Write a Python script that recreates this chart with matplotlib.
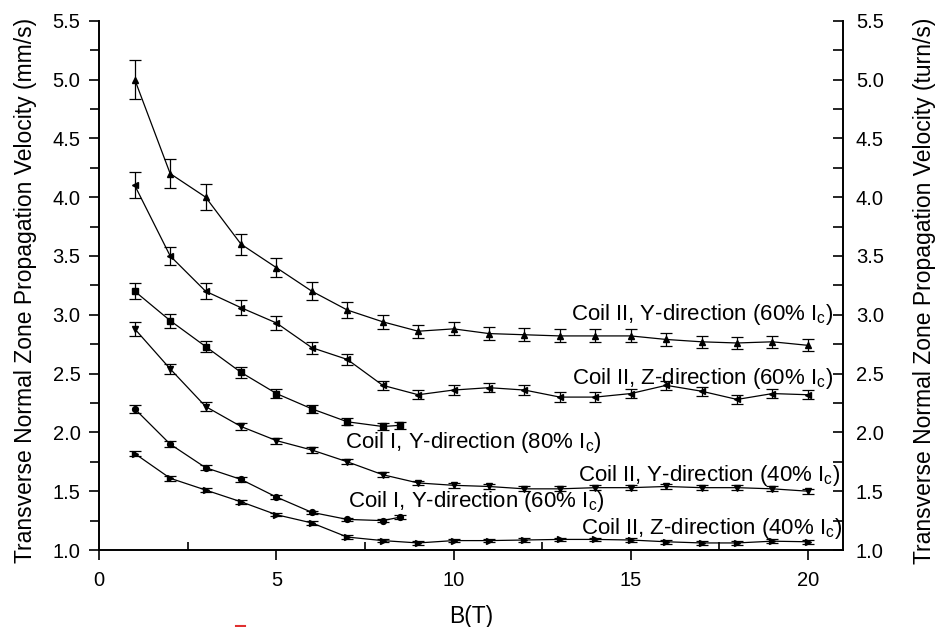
import matplotlib
matplotlib.use("Agg")
import matplotlib.pyplot as plt
from matplotlib.lines import Line2D
from matplotlib.ticker import MultipleLocator

plt.rcParams["font.family"] = ["Liberation Sans", "DejaVu Sans"]
plt.rcParams["mathtext.default"] = "regular"

# B field (T)
b_full = [1, 2, 3, 4, 5, 6, 7, 8, 9, 10, 11, 12, 13, 14, 15, 16, 17, 18, 19, 20]
b_coil1 = [1, 2, 3, 4, 5, 6, 7, 8, 8.5]

# Coil II, Y-direction (60% Ic)
c2_y60 = [5.00, 4.20, 4.00, 3.60, 3.40, 3.20, 3.04, 2.94, 2.86, 2.88,
          2.84, 2.83, 2.82, 2.82, 2.82, 2.79, 2.77, 2.76, 2.77, 2.74]
c2_y60_err = [0.17, 0.125, 0.11, 0.09, 0.08, 0.075, 0.065, 0.06, 0.055, 0.055,
              0.055, 0.055, 0.055, 0.055, 0.055, 0.055, 0.05, 0.05, 0.05, 0.05]

# Coil II, Z-direction (60% Ic)
c2_z60 = [4.10, 3.50, 3.20, 3.06, 2.93, 2.72, 2.62, 2.40, 2.32, 2.36,
          2.38, 2.36, 2.30, 2.30, 2.33, 2.40, 2.35, 2.28, 2.33, 2.32]
c2_z60_err = [0.11, 0.08, 0.07, 0.065, 0.06, 0.05, 0.045, 0.04, 0.04, 0.04,
              0.04, 0.04, 0.04, 0.04, 0.04, 0.04, 0.04, 0.04, 0.04, 0.04]

# Coil I, Y-direction (80% Ic)
c1_y80 = [3.20, 2.95, 2.73, 2.51, 2.33, 2.20, 2.09, 2.05, 2.06]
c1_y80_err = [0.07, 0.06, 0.05, 0.045, 0.04, 0.035, 0.03, 0.03, 0.03]

# Coil II, Y-direction (40% Ic)
c2_y40 = [2.88, 2.54, 2.22, 2.05, 1.93, 1.85, 1.75, 1.64, 1.57, 1.55,
          1.54, 1.52, 1.52, 1.53, 1.53, 1.54, 1.53, 1.53, 1.52, 1.50]
c2_y40_err = [0.057, 0.045, 0.035, 0.03, 0.025, 0.025, 0.02, 0.02, 0.02, 0.02,
              0.02, 0.02, 0.02, 0.02, 0.02, 0.02, 0.02, 0.02, 0.02, 0.02]

# Coil I, Y-direction (60% Ic)
c1_y60 = [2.20, 1.90, 1.70, 1.60, 1.45, 1.32, 1.26, 1.25, 1.28]
c1_y60_err = [0.033, 0.025, 0.02, 0.02, 0.02, 0.015, 0.015, 0.015, 0.015]

# Coil II, Z-direction (40% Ic)
c2_z40 = [1.82, 1.61, 1.51, 1.41, 1.30, 1.23, 1.11, 1.08, 1.06, 1.08,
          1.08, 1.085, 1.09, 1.09, 1.085, 1.07, 1.06, 1.06, 1.075, 1.07]
c2_z40_err = [0.025, 0.02, 0.015, 0.015, 0.015, 0.015, 0.015, 0.015, 0.015, 0.015,
              0.015, 0.015, 0.015, 0.015, 0.015, 0.015, 0.015, 0.015, 0.015, 0.015]

series = [
    (b_full, c2_y60, c2_y60_err, "^"),
    (b_full, c2_z60, c2_z60_err, "<"),
    (b_coil1, c1_y80, c1_y80_err, "s"),
    (b_full, c2_y40, c2_y40_err, "v"),
    (b_coil1, c1_y60, c1_y60_err, "o"),
    (b_full, c2_z40, c2_z40_err, ">"),
]

# curve labels: text, x start, baseline y (data units)
labels = [
    (r"Coil II, Y-direction (60% I$_c$)", 13.32, 2.956),
    (r"Coil II, Z-direction (60% I$_c$)", 13.35, 2.41),
    (r"Coil I, Y-direction (80% I$_c$)", 6.93, 1.865),
    (r"Coil II, Y-direction (40% I$_c$)", 13.50, 1.59),
    (r"Coil I, Y-direction (60% I$_c$)", 7.02, 1.363),
    (r"Coil II, Z-direction (40% I$_c$)", 13.60, 1.136),
]

fig = plt.figure(figsize=(9.36, 6.27), dpi=100)
ax = fig.add_axes([0.1061, 0.1228, 0.7949, 0.8442])

for x, y, err, mk in series:
    ax.errorbar(x, y, yerr=err, color="black", lw=0.9, marker=mk, ms=4.2,
                capsize=4, elinewidth=0.9, capthick=0.9)

for text, tx, ty in labels:
    ax.text(tx, ty, text, fontsize=16, ha="left", va="baseline")

ax.set_xlim(0, 21)
ax.set_ylim(1.0, 5.5)
ax.xaxis.set_major_locator(MultipleLocator(5))
ax.xaxis.set_minor_locator(MultipleLocator(2.5))
ax.yaxis.set_major_locator(MultipleLocator(0.5))
ax.yaxis.set_minor_locator(MultipleLocator(0.25))
ax.yaxis.set_major_formatter(lambda v, p: f"{v:.1f}")

ax.tick_params(axis="x", which="major", direction="out", length=7, width=1.2,
               labelsize=14.5, pad=8)
ax.tick_params(axis="x", which="minor", direction="in", length=6, width=1.2)
ax.tick_params(axis="y", which="major", direction="out", length=7, width=1.2,
               labelsize=14.5, pad=6.5)
ax.tick_params(axis="y", which="minor", direction="out", length=6.5, width=1.2)

ax.spines["top"].set_visible(False)
ax.spines["right"].set_visible(False)
for s in ("left", "bottom"):
    ax.spines[s].set_linewidth(1.4)

ax.set_xlabel("B(T)", fontsize=16.5)
ax.xaxis.set_label_coords(0.5, -0.104)
ax.set_ylabel("Transverse Normal Zone Propagation Velocity (mm/s)", fontsize=16.5)
ax.yaxis.set_label_coords(-0.084, 0.49)

ax2 = ax.twinx()
ax2.set_ylim(1.0, 5.5)
ax2.yaxis.set_major_locator(MultipleLocator(0.5))
ax2.yaxis.set_minor_locator(MultipleLocator(0.25))
ax2.yaxis.set_major_formatter(lambda v, p: f"{v:.1f}")
ax2.tick_params(axis="y", which="major", direction="in", length=7, width=1.2,
                labelsize=14.5, pad=9)
ax2.tick_params(axis="y", which="minor", direction="in", length=7, width=1.2)
ax2.spines["top"].set_visible(False)
ax2.spines["left"].set_visible(False)
ax2.spines["bottom"].set_visible(False)
ax2.spines["right"].set_linewidth(1.4)
ax2.set_ylabel("Transverse Normal Zone Propagation Velocity (turn/s)", fontsize=16.5)
ax2.yaxis.set_label_coords(1.094, 0.49)

# small red mark near the bottom edge of the original
fig.add_artist(Line2D([0.252, 0.262], [0.002, 0.002], transform=fig.transFigure,
                      color="#e03030", lw=1.5))

fig.savefig("out.png", dpi=100)
